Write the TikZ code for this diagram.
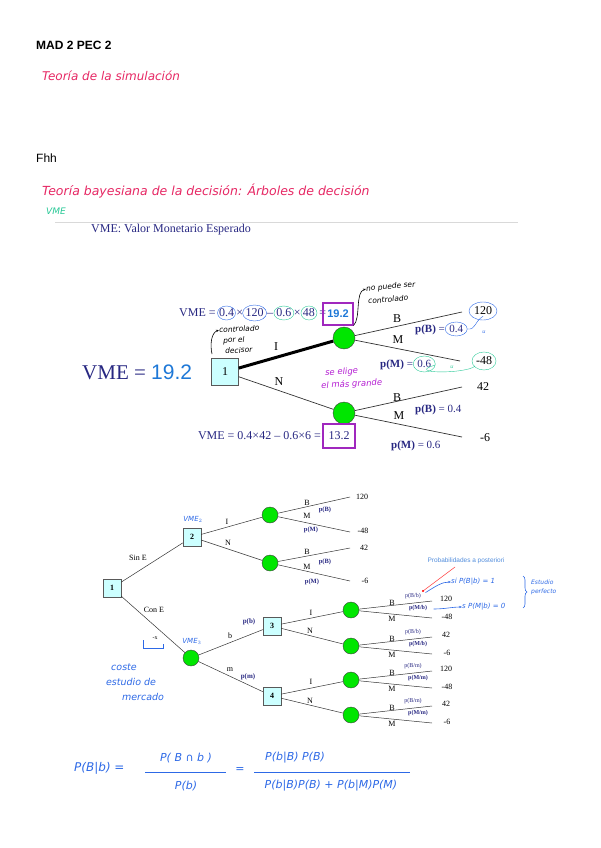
\documentclass[tikz,border=0pt]{standalone}
\usepackage{fontspec}
\setmainfont{Liberation Serif}
\setsansfont{Liberation Sans}
\newfontfamily\handfont{DejaVu Sans}
\usetikzlibrary{arrows.meta,positioning,shapes.geometric,decorations.pathreplacing}
\definecolor{navy}{RGB}{40,40,130}
\definecolor{hblue}{RGB}{45,105,230}
\definecolor{vmeblue}{RGB}{30,120,215}
\definecolor{hred}{RGB}{230,40,100}
\definecolor{hteal}{RGB}{40,200,150}
\definecolor{hpurple}{RGB}{180,30,210}
\definecolor{boxpurple}{RGB}{160,40,190}
\definecolor{boxcyan}{RGB}{204,255,255}
\definecolor{nodegreen}{RGB}{0,230,0}
\definecolor{postblue}{RGB}{80,140,220}
\newcommand{\fsz}[1]{\fontsize{#1}{#1}\selectfont}

\begin{document}
\begin{tikzpicture}[x=1pt,y=-1pt,
  node distance=0pt,
  dec/.style={draw=black!65,fill=boxcyan,minimum size=27pt,inner sep=0pt,font=\fsz{12}},
  decsm/.style={dec,minimum size=18pt,font=\fsz{8}\bfseries},
  chance/.style={circle,draw=black!75,fill=nodegreen,minimum size=22pt,inner sep=0pt},
  chancesm/.style={chance,minimum size=16pt},
  lbl/.style={font=\fsz{12},inner sep=1pt},
  lblsm/.style={font=\fsz{8},inner sep=1pt},
  prob/.style={font=\fsz{11},text=navy,inner sep=1pt,text height=8pt,text depth=2pt},
  probsm/.style={font=\fsz{6},text=navy,inner sep=0.5pt},
  fpart/.style={font=\fsz{12},text=navy,inner sep=1pt,text height=8pt,text depth=2pt},
  vmebox/.style={draw=boxpurple,line width=1.1pt,minimum width=30pt,minimum height=22pt,inner sep=1pt},
  hand/.style={font=\handfont\itshape\fsz{#1},inner sep=0pt},
  hand/.default=8,
  branch/.style={draw=black!80,line width=0.7pt},
  hnote/.style={-{Stealth[length=3pt]},line width=0.6pt}
]
\useasboundingbox (0,0) rectangle (600,848);

% header of the page
\node[font=\sffamily\bfseries\fsz{12},anchor=west,inner sep=0pt] (title) at (36,45) {MAD 2 PEC 2};
\node[hand=12,text=hred,anchor=west] (sim) at (42,76) {Teoría de la simulación};
\node[font=\sffamily\fsz{12},anchor=west,inner sep=0pt] (fhh) at (36,158) {Fhh};
\node[hand=12.5,text=hred,anchor=west] (bayes) at (42,191) {Teoría bayesiana de la decisión: Árboles de decisión};
\node[hand=9,text=hteal,anchor=west] (vmeg) at (46,211) {VME};
\draw[gray!30] (55,222) -- (518,222);
\node[font=\fsz{12},text=navy,anchor=west,inner sep=0pt] (vmedef) at (91,230) {VME: Valor Monetario Esperado};

% first tree
\node[anchor=west,inner sep=0pt,text=navy,font=\fsz{21}] (vmebig) at (82,372) {VME = \textsf{\color{vmeblue}19.2}};
\node[dec] (d1) at (225,372) {1};
\node[chance] (c1) at (344,338) {};
\node[chance] (c2) at (344,413) {};
\draw[line width=3pt] (d1) -- (c1);
\draw[branch] (d1) -- (c2);
\node[lbl] (lI) at (276,347) {I};
\node[lbl] (lN) at (279,382) {N};

\coordinate (e11) at (462,312);
\coordinate (e12) at (460,361);
\coordinate (e21) at (462,387);
\coordinate (e22) at (462,437);
\draw[branch] (c1) -- (e11);
\draw[branch] (c1) -- (e12);
\draw[branch] (c2) -- (e21);
\draw[branch] (c2) -- (e22);
\node[lbl] (b1) at (397,319) {B};
\node[lbl] (m1) at (398,340) {M};
\node[lbl] (b2) at (397,398) {B};
\node[lbl] (m2) at (399,416) {M};
\node[lbl] (v120) at (483,311) {120};
\node[lbl] (v48) at (484,361) {-48};
\node[lbl] (v42) at (483,387) {42};
\node[lbl] (v6) at (485,438) {-6};

% probabilities
\node[prob,anchor=west] (pBt) at (414,329) {\textbf{p(B)} =};
\node[prob,right=2pt of pBt] (pB04) {0.4};
\node[prob,anchor=west] (pMt) at (379,364) {\textbf{p(M)} =};
\node[prob,right=2pt of pMt] (pM06) {0.6};
\node[prob,anchor=west] (pBb) at (414,409) {\textbf{p(B)} = 0.4};
\node[prob,anchor=west] (pMb) at (390,445) {\textbf{p(M)} = 0.6};

% VME of the two chance nodes
\node[fpart,anchor=west] (vA) at (178,313) {VME =};
\node[fpart,right=1pt of vA] (f04) {0.4};
\node[fpart,right=0pt of f04] (fx1) {×};
\node[fpart,right=0pt of fx1] (f120) {120};
\node[fpart,right=1pt of f120] (fmin) {–};
\node[fpart,right=1pt of fmin] (f06) {0.6};
\node[fpart,right=0pt of f06] (fx2) {×};
\node[fpart,right=0pt of fx2] (f48) {48};
\node[fpart,right=2pt of f48] (feq) {=};
\node[vmebox,font=\sffamily\bfseries\fsz{11},text=vmeblue] (r192) at (338,314) {19.2};
\node[fpart,anchor=east] (vB) at (322,436) {VME = 0.4×42 – 0.6×6 =};
\node[vmebox,minimum width=32pt,minimum height=24pt,font=\fsz{12},text=navy] (r132) at (339,436) {13.2};

% notes on the first tree
\draw[hblue] (f04) ellipse (9pt and 7pt);
\draw[hblue] (f120) ellipse (12pt and 8pt);
\draw[hteal] (f06) ellipse (10pt and 7pt);
\draw[hteal] (f48) ellipse (8pt and 7pt);
\draw[hblue] (v120) ellipse (14pt and 9pt);
\draw[hblue] (pB04) ellipse (11pt and 7pt);
\draw[hteal] (pM06) ellipse (11pt and 8pt);
\draw[hteal] (v48) ellipse (12pt and 9pt);
\draw[hblue] (pB04.east) ++(3,0) .. controls (476,330) and (474,322) .. (v120.south);
\node[hand=5,text=hblue] (u1) at (484,332) {u};
\draw[hteal] (pM06.east) ++(3,1) .. controls (404,374) and (466,374) .. (v48.south west);
\node[hand=5,text=hteal] (u2) at (452,367) {u};

\node[hand=7.5,rotate=3,anchor=west] (ctrl1) at (219,330) {controlado};
\node[hand=7.5,rotate=3,anchor=west] (ctrl2) at (223,341) {por el};
\node[hand=7.5,rotate=3,anchor=west] (ctrl3) at (225,351) {decisor};
\draw[hnote] (212,354) .. controls (210,345) and (211,333) .. (ctrl1.west);
\node[hand=7.5,rotate=5,anchor=west] (nctrl1) at (366,289) {no puede ser};
\node[hand=7.5,rotate=5,anchor=west] (nctrl2) at (368,301) {controlado};
\draw[hnote] (r192.south east) .. controls (361,318) and (355,292) .. (nctrl1.west);
\node[hand=8.5,text=hpurple,rotate=3,anchor=west] (elige1) at (325,373) {se elige};
\node[hand=8.5,text=hpurple,rotate=3,anchor=west] (elige2) at (321,386) {el más grande};

% second tree
\node[decsm] (bd1) at (112,588) {1};
\node[decsm] (bd2) at (192,537) {2};
\node[chancesm] (bc1) at (270,515) {};
\node[chancesm] (bc2) at (270,563) {};
\node[chancesm] (bc3) at (191,658) {};
\node[decsm] (bd3) at (272,626) {3};
\node[decsm] (bd4) at (272,696) {4};
\draw[branch,line width=0.5pt] (bd1) -- (bd2);
\draw[branch,line width=0.5pt] (bd1) -- (bc3);
\draw[branch,line width=0.5pt] (bd2) -- (bc1);
\draw[branch,line width=0.5pt] (bd2) -- (bc2);
\draw[branch,line width=0.5pt] (bc3) -- (bd3);
\draw[branch,line width=0.5pt] (bc3) -- (bd4);
\node[lblsm] (lsin) at (138,558) {Sin E};
\node[lblsm] (lcon) at (154,610) {Con E};
\node[lblsm] (lI2) at (227,522) {I};
\node[lblsm] (lN2) at (228,543) {N};
\node[lblsm] (lb) at (230,636) {b};
\node[lblsm] (lm) at (230,670) {m};
\node[probsm,font=\fsz{7}\bfseries] (pb) at (249,622) {p(b)};
\node[probsm,font=\fsz{7}\bfseries] (pm) at (248,677) {p(m)};

\coordinate (g11) at (350,497);
\coordinate (g12) at (350,532);
\coordinate (g21) at (350,548);
\coordinate (g22) at (350,581);
\draw[branch,line width=0.5pt] (bc1) -- (g11);
\draw[branch,line width=0.5pt] (bc1) -- (g12);
\draw[branch,line width=0.5pt] (bc2) -- (g21);
\draw[branch,line width=0.5pt] (bc2) -- (g22);
\node[lblsm] (gb1) at (307,503) {B};
\node[lblsm] (gm1) at (307,516) {M};
\node[lblsm] (gb2) at (307,552) {B};
\node[lblsm] (gm2) at (307,567) {M};
\node[probsm,font=\fsz{6.5}\bfseries] (gpb1) at (325,510) {p(B)};
\node[probsm,font=\fsz{6.5}\bfseries] (gpm1) at (311,530) {p(M)};
\node[probsm,font=\fsz{6.5}\bfseries] (gpb2) at (325,562) {p(B)};
\node[probsm,font=\fsz{6.5}\bfseries] (gpm2) at (312,582) {p(M)};
\node[lblsm] (gv1) at (362,497) {120};
\node[lblsm] (gv2) at (363,531) {-48};
\node[lblsm] (gv3) at (364,548) {42};
\node[lblsm] (gv4) at (365,581) {-6};

\foreach \n/\y/\s/\vb/\vm/\d in {4/610/b/120/-48/3, 5/646/b/42/-6/3, 6/680/m/120/-48/4, 7/715/m/42/-6/4} {
  \node[chancesm] (bc\n) at (351,\y) {};
  \coordinate (h\n u) at (432,\y-9);
  \coordinate (h\n d) at (432,\y+8);
  \draw[branch,line width=0.5pt] (bc\n) -- (h\n u);
  \draw[branch,line width=0.5pt] (bc\n) -- (h\n d);
  \node[lblsm] (hb\n) at (392,\y-7) {B};
  \node[lblsm] (hm\n) at (392,\y+9) {M};
  \node[probsm] (hpb\n) at (413,\y-14) {p(B/\s)};
  \node[probsm,font=\fsz{6}\bfseries] (hpm\n) at (418,\y-2) {p(M/\s)};
  \node[lblsm] (hvb\n) at (446,\y-11) {\vb};
  \node[lblsm] (hvm\n) at (447,\y+7) {\vm};
}
\draw[branch,line width=0.5pt] (bd3) -- (bc4);
\draw[branch,line width=0.5pt] (bd3) -- (bc5);
\draw[branch,line width=0.5pt] (bd4) -- (bc6);
\draw[branch,line width=0.5pt] (bd4) -- (bc7);
\node[lblsm] (hI3) at (311,613) {I};
\node[lblsm] (hN3) at (310,631) {N};
\node[lblsm] (hI4) at (311,682) {I};
\node[lblsm] (hN4) at (310,701) {N};

% notes on the second tree
\node[hand=7,text=hblue] (vme2) at (193,519) {VME$_2$};
\node[hand=7,text=hblue] (vme3) at (192,641) {VME$_3$};
\node[font=\fsz{6},inner sep=0pt] (cx) at (155,638) {-x};
\draw[hblue,line width=0.6pt] (143,640) -- (143,648) -- (163,648) -- (163,644);
\node[hand=9.5,text=hblue] (cost1) at (124,667) {coste};
\node[hand=9.5,text=hblue] (cost2) at (131,682) {estudio de};
\node[hand=9.5,text=hblue] (cost3) at (143,697) {mercado};

\node[font=\sffamily\fsz{6.5},text=postblue,inner sep=0pt] (post) at (466,561) {Probabilidades a posteriori};
\coordinate (redpt) at (423,591);
\draw[red!80,line width=0.5pt] (redpt) -- (455,567);
\fill[red] (redpt) circle (1.2pt);
\node[hand=7,text=hblue,anchor=west] (siB) at (451,582) {si P(B|b) = 1};
\node[hand=7,text=hblue,anchor=west] (siM) at (462,607) {s P(M|b) = 0};
\draw[hnote,hblue] (hpb4.north east) ++(4,0) .. controls (436,586) and (442,582) .. (siB.west);
\draw[hnote,hblue] (hpm4.east) ++(6,1) .. controls (445,609) and (452,607) .. (siM.west);
\draw[hblue,line width=0.6pt,decorate,decoration={brace,amplitude=4pt}] (523,576) -- (523,608);
\node[hand=6,text=hblue,anchor=west] (perf1) at (531,582) {Estudio};
\node[hand=6,text=hblue,anchor=west] (perf2) at (531,592) {perfecto};

% Bayes formula
\node[hand=12,text=hblue,anchor=west] (bay0) at (74,768) {P(B|b) =};
\node[hand=11,text=hblue] (bay1n) at (186,758) {P( B ∩ b )};
\draw[hblue,line width=0.7pt] (145,772) -- (226,772);
\node[hand=11,text=hblue] (bay1d) at (186,786) {P(b)};
\node[hand=11,text=hblue] (bay2) at (240,770) {=};
\node[hand=11,text=hblue] (bay2n) at (295,758) {P(b|B) P(B)};
\draw[hblue,line width=0.7pt] (254,772) -- (410,772);
\node[hand=11,text=hblue] (bay2d) at (331,786) {P(b|B)P(B) + P(b|M)P(M)};
\end{tikzpicture}
\end{document}
